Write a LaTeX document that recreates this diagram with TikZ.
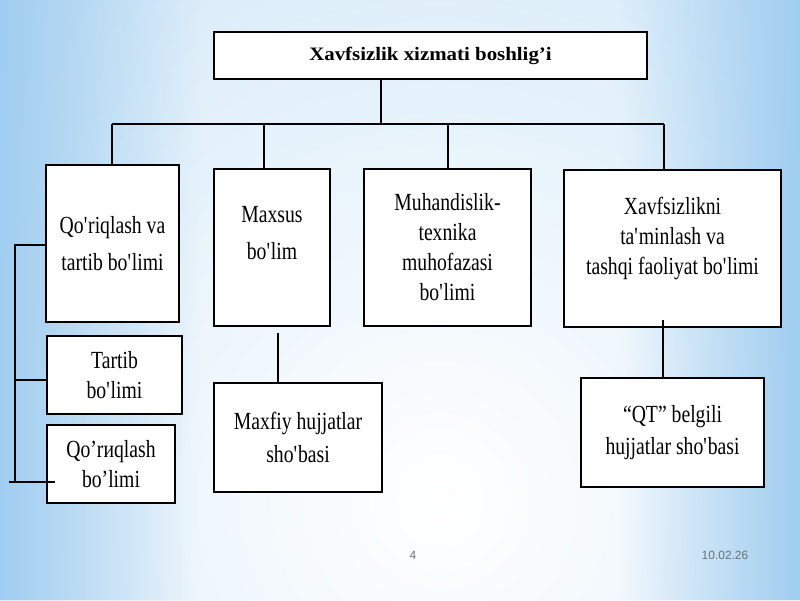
\documentclass[tikz,border=0pt]{standalone}
\usepackage{fontspec}
\setmainfont{Liberation Serif}[FakeStretch=0.8]
\newfontfamily\titlefont{Liberation Serif}[FakeStretch=1.1]
\newfontfamily\footfont{Liberation Sans}
\usetikzlibrary{calc,fadings}
\definecolor{bgblue}{RGB}{160,205,240}
\definecolor{bglight}{RGB}{212,233,248}
\definecolor{footgray}{RGB}{110,112,120}
\newcommand\orgfont{\fontsize{17.5pt}{21.3pt}\selectfont}
\newcommand\aq{\textquotesingle}
\tikzfading[name=fadeleft, left color=transparent!0, right color=transparent!100]
\tikzfading[name=faderight, left color=transparent!100, right color=transparent!0]

\begin{document}
\begin{tikzpicture}[x=0.025cm, y=-0.025cm,
  box/.style={draw, fill=white, line width=1.1pt, align=center, font=\orgfont, inner sep=2pt},
  link/.style={line width=1pt},
  foot/.style={text=footgray, font=\footfont\fontsize{8.5pt}{9pt}\selectfont}]
\useasboundingbox (0,0) rectangle (800,600);

% Background
\begin{scope}
\clip (0,0) rectangle (800,600);
\fill[bglight] (0,0) rectangle (800,600);
\shade[inner color=white, outer color=bglight] (440,500) ellipse [x radius=17cm, y radius=17cm];
\fill[bgblue, path fading=fadeleft] (0,0) rectangle (200,600);
\fill[bgblue, path fading=faderight] (620,0) rectangle (800,600);
\end{scope}

% Head
\node[box, font=\titlefont\bfseries\fontsize{13.5pt}{16pt}\selectfont,
  minimum width=10.825cm, minimum height=1.175cm]
  (head) at (430.5,55.5) {Xavfsizlik xizmati boshlig’i};

% Departments
\node[box, minimum width=3.325cm, minimum height=3.925cm] (qor) at (112.5,243.5)
  {Qo\aq riqlash va\\[5pt]tartib bo\aq limi};
\node[box, minimum width=2.9cm, minimum height=3.925cm,
  label={[align=center, font=\orgfont, yshift=0.35cm]center:{Maxsus\\[5pt]bo\aq lim}}]
  (maxsus) at (272,247.5) {};
\node[box, minimum width=4.175cm, minimum height=3.925cm] (muh) at (447.5,247.5)
  {Muhandislik-\\texnika\\muhofazasi\\bo\aq limi};
\node[box, minimum width=5.425cm, minimum height=3.925cm,
  label={[align=center, font=\orgfont, yshift=0.25cm]center:{Xavfsizlikni\\ta\aq minlash va\\tashqi faoliyat bo\aq limi}}]
  (xavf) at (672.5,248.5) {};

% Sub units
\node[box, minimum width=3.375cm, minimum height=1.95cm] (tartib) at (114.5,375)
  {Tartib\\bo\aq limi};
\node[box, minimum width=3.2cm, minimum height=1.95cm] (qor2) at (111,464)
  {Qo’rиqlash\\bo’limi};
\node[box, minimum width=4.2cm, minimum height=2.725cm] (maxfiy) at (298,437.5)
  {Maxfiy hujjatlar\\[2pt]sho\aq basi};
\node[box, minimum width=4.575cm, minimum height=2.725cm] (qt) at (672.5,432.5)
  {“QT” belgili\\[2pt]hujjatlar sho\aq basi};

% Bus
\coordinate (bus) at (381,124);
\coordinate (b1) at (112,124);
\coordinate (b2) at (264,124);
\coordinate (b3) at (448,124);
\coordinate (b4) at (664,124);
\draw[link] (head.south -| bus) -- (bus);
\draw[link] (b1) -- (b4);
\draw[link] (b1) -- (b1 |- qor.north);
\draw[link] (b2) -- (b2 |- maxsus.north);
\draw[link] (b3) -- (b3 |- muh.north);
\draw[link] (b4) -- (b4 |- xavf.north);

% Down links
\coordinate (m1) at (278,333);
\draw[link] (m1) -- (m1 |- maxfiy.north);
\coordinate (x1) at (663,320);
\draw[link] (x1) -- (x1 |- qt.north);

% Left bracket
\coordinate (l1) at (15,245);
\coordinate (l2) at (15,380);
\coordinate (l3) at (15,482);
\coordinate (l3a) at (9,482);
\coordinate (l3b) at (55,482);
\draw[link] (l1 -| qor.west) -- (l1) -- (l3);
\draw[link] (l2) -- (l2 -| tartib.west);
\draw[link] (l3a) -- (l3b);

% Footer
\node[foot] (page) at (413,555) {4};
\node[foot] (date) at (725,555) {10.02.26};
\end{tikzpicture}
\end{document}
